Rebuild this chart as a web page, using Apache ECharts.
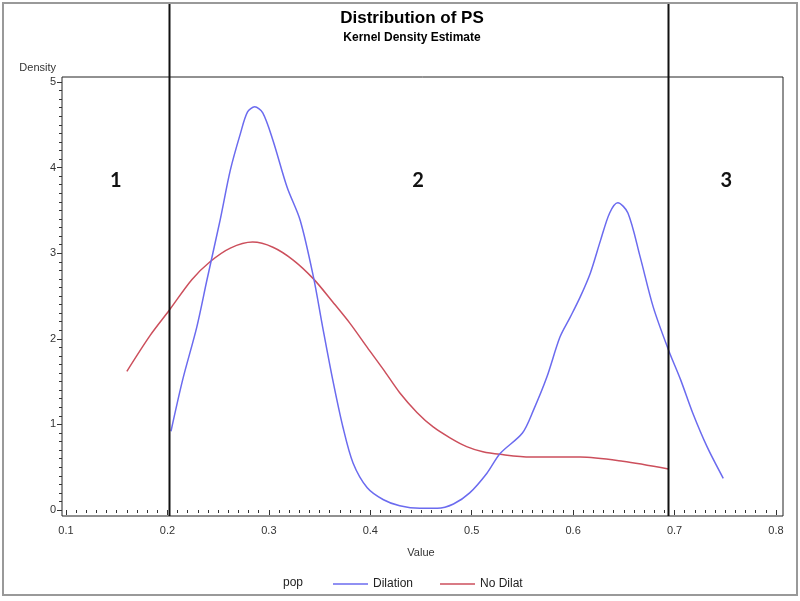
<!DOCTYPE html>
<html>
<head>
<meta charset="utf-8">
<script src="https://cdn.jsdelivr.net/npm/echarts@6/dist/echarts.min.js"></script>
<style>
  html, body { margin: 0; padding: 0; background: #fff; }
  #chart { width: 800px; height: 601px; }
</style>
</head>
<body>
<div id="chart"></div>
<script>
// Dilation curve (blue)
var dilationX = [0.2035, 0.215, 0.229, 0.239, 0.252, 0.262, 0.272, 0.279, 0.286, 0.294, 0.304, 0.318, 0.331, 0.344, 0.353, 0.363, 0.373, 0.383, 0.397, 0.413, 0.429, 0.449, 0.466, 0.482, 0.498, 0.515, 0.528, 0.550, 0.561, 0.574, 0.587, 0.597, 0.607, 0.617, 0.627, 0.636, 0.644, 0.654, 0.666, 0.679, 0.694, 0.706, 0.718, 0.732, 0.748];
var dilationY = [0.92, 1.52, 2.14, 2.69, 3.39, 3.97, 4.40, 4.65, 4.71, 4.64, 4.32, 3.77, 3.38, 2.72, 2.14, 1.52, 0.97, 0.55, 0.26, 0.12, 0.05, 0.02, 0.02, 0.07, 0.20, 0.43, 0.66, 0.90, 1.17, 1.55, 2.02, 2.25, 2.49, 2.77, 3.15, 3.47, 3.59, 3.47, 2.96, 2.37, 1.87, 1.52, 1.13, 0.74, 0.37];
// No Dilat curve (red)
var noDilatX = [0.160, 0.183, 0.2016, 0.224, 0.242, 0.262, 0.284, 0.304, 0.324, 0.344, 0.363, 0.380, 0.397, 0.413, 0.429, 0.446, 0.462, 0.479, 0.495, 0.511, 0.528, 0.558, 0.607, 0.649, 0.694];
var noDilatY = [1.62, 2.04, 2.33, 2.69, 2.90, 3.06, 3.13, 3.07, 2.92, 2.70, 2.43, 2.18, 1.90, 1.64, 1.37, 1.14, 0.97, 0.84, 0.74, 0.68, 0.65, 0.62, 0.62, 0.57, 0.48];

var cutoffs = [0.202, 0.694];
var regionLabels = ['1', '2', '3'];
var regionLabelX = [0.149, 0.447, 0.751];
var regionLabelY = 3.85;

var chart = echarts.init(document.getElementById('chart'));

function pairs(xs, ys) {
    return xs.map(function (x, i) { return [x, ys[i]]; });
}

var font = 'Liberation Sans, Arial, sans-serif';

var option = {
    animation: false,
    backgroundColor: '#fff',
    title: {
        text: 'Distribution of PS',
        subtext: 'Kernel Density Estimate',
        left: 407,
        top: 5,
        textAlign: 'center',
        itemGap: 5,
        textStyle: { fontFamily: font, fontSize: 17, fontWeight: 'bold', color: '#000' },
        subtextStyle: { fontFamily: font, fontSize: 12, fontWeight: 'bold', color: '#000' }
    },
    grid: { left: 66, right: 24, top: 82, bottom: 91 },
    legend: {
        left: 328,
        top: 573,
        icon: 'rect',
        itemWidth: 35,
        itemHeight: 1.5,
        itemGap: 27,
        textStyle: { fontFamily: font, fontSize: 12, color: '#222' },
        data: ['Dilation', 'No Dilat']
    },
    xAxis: {
        type: 'value',
        min: 0.1,
        max: 0.8,
        interval: 0.1,
        offset: 6,
        name: 'Value',
        nameLocation: 'middle',
        nameGap: 31,
        nameTextStyle: { fontFamily: font, fontSize: 11, color: '#333' },
        axisLine: { show: false },
        axisTick: { show: true, length: 5, lineStyle: { color: '#333' } },
        minorTick: { show: true, splitNumber: 10, length: 3, lineStyle: { color: '#333' } },
        splitLine: { show: false },
        axisLabel: { fontFamily: font, fontSize: 11, color: '#333', margin: 9,
            formatter: function (v) { return v.toFixed(1); } }
    },
    yAxis: {
        type: 'value',
        min: 0,
        max: 5,
        interval: 1,
        offset: 4,
        name: 'Density',
        nameGap: 9,
        nameTextStyle: { fontFamily: font, fontSize: 11, color: '#333', align: 'right', padding: [0, 6, 0, 0] },
        axisLine: { show: false },
        axisTick: { show: true, length: 5, lineStyle: { color: '#333' } },
        minorTick: { show: true, splitNumber: 10, length: 3, lineStyle: { color: '#333' } },
        splitLine: { show: false },
        axisLabel: { fontFamily: font, fontSize: 11, color: '#333', margin: 6 }
    },
    series: [
        {
            name: 'Dilation',
            type: 'line',
            data: pairs(dilationX, dilationY),
            smooth: 0.3,
            showSymbol: false,
            itemStyle: { color: '#6b6bef' },
            lineStyle: { color: '#6b6bef', width: 1.5 },
            z: 3
        },
        {
            name: 'No Dilat',
            type: 'line',
            data: pairs(noDilatX, noDilatY),
            smooth: 0.3,
            showSymbol: false,
            itemStyle: { color: '#cc4f5c' },
            lineStyle: { color: '#cc4f5c', width: 1.5 },
            z: 2
        }
    ]
};

chart.setOption(option);

// frame, cutoff lines and region labels placed through the chart's own scales
var graphics = [
    { type: 'rect', shape: { x: 3, y: 3, width: 794, height: 592 },
      style: { fill: null, stroke: '#999', lineWidth: 2 }, silent: true },
    { type: 'rect', shape: { x: 62, y: 77, width: 721, height: 439 },
      style: { fill: null, stroke: '#222', lineWidth: 1 }, silent: true },
    { type: 'text', left: 283, top: 577,
      style: { text: 'pop', font: '12px ' + font, fill: '#222' }, silent: true }
];
cutoffs.forEach(function (c) {
    var px = Math.round(chart.convertToPixel({ xAxisIndex: 0 }, c)) + 0.5;
    graphics.push({ type: 'line', shape: { x1: px, y1: 4, x2: px, y2: 516 },
        style: { stroke: '#111', lineWidth: 2 }, z: 10, silent: true });
});
regionLabels.forEach(function (t, i) {
    var p = chart.convertToPixel({ gridIndex: 0 }, [regionLabelX[i], regionLabelY]);
    graphics.push({ type: 'text', x: p[0], y: p[1],
        style: { text: t, font: 'bold 20px Lato, sans-serif', fill: '#111', align: 'center', verticalAlign: 'middle' },
        silent: true });
});
chart.setOption({ graphic: graphics });
</script>
</body>
</html>
